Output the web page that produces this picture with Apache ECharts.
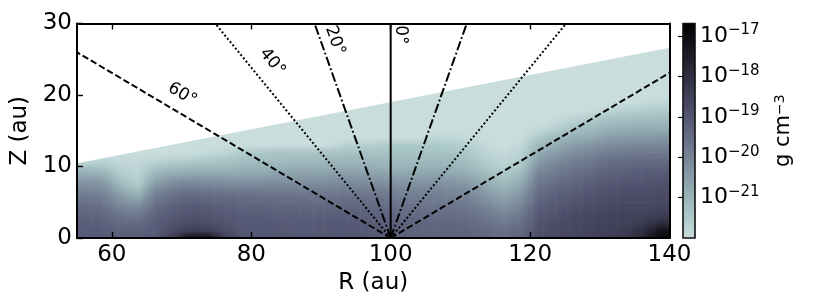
<!DOCTYPE html>
<html><head><meta charset="utf-8">
<script src="https://cdn.jsdelivr.net/npm/echarts@6/dist/echarts.min.js"></script>
<style>html,body{margin:0;padding:0;background:#fff}#c{width:822px;height:308px}</style>
</head><body><div id="c"></div>
<script>
// ---------- data ----------
const R_MIN = 55, R_MAX = 140, Z_MIN = 0, Z_MAX = 30;
const R_TICKS = [60, 80, 100, 120, 140];
const R_TOP_TICKS = [60, 80, 100, 120];
const CBAR_TICKS = [-21, -20, -19, -18, -17];
const CBAR_MIN = -22, CBAR_MAX = -16.69;   // log10 density (g cm^-3)

// density columns: centre radius (au); values log10(rho) at Z = 0,1,2,... au
const COL_R = [56.25,58.75,61.25,63.75,66.25,68.75,71.25,73.75,76.25,78.75,81.25,83.75,86.25,88.75,91.25,93.75,96.25,98.75,
               101.25,103.75,106.25,108.75,111.25,113.75,116.25,118.75,121.25,123.75,126.25,128.75,131.25,133.75,136.25,138.75];
const Z_STEP = 1;
const DENSITY = [
  [-19.1,-19.15,-19.2,-19.3,-19.45,-19.6,-19.8,-20.1,-20.4,-20.8,-21.3,-22],
  [-19.1,-19.15,-19.25,-19.35,-19.5,-19.7,-19.95,-20.2,-20.5,-20.9,-21.4,-21.8,-22],
  [-19.2,-19.3,-19.45,-19.65,-19.9,-20.2,-20.5,-20.9,-21.2,-21.5,-21.7,-21.9,-22],
  [-19.2,-19.3,-19.45,-19.7,-20.0,-20.4,-20.9,-21.3,-21.6,-21.7,-21.8,-21.9,-22],
  [-19.1,-19.15,-19.2,-19.3,-19.45,-19.65,-19.9,-20.2,-20.6,-21.0,-21.4,-21.8,-22],
  [-18.3,-18.75,-18.95,-19.05,-19.2,-19.35,-19.6,-19.9,-20.3,-20.8,-21.2,-21.7,-22],
  [-17.0,-18.4,-18.75,-18.9,-19.05,-19.2,-19.45,-19.8,-20.2,-20.7,-21.1,-21.6,-22],
  [-17.0,-18.4,-18.8,-18.95,-19.1,-19.25,-19.5,-19.85,-20.25,-20.7,-21.1,-21.5,-21.9,-22],
  [-18.4,-18.8,-18.95,-19.05,-19.15,-19.3,-19.55,-19.9,-20.3,-20.75,-21.1,-21.4,-21.8,-22],
  [-19.0,-19.05,-19.1,-19.15,-19.25,-19.4,-19.6,-19.9,-20.3,-20.7,-21.0,-21.25,-21.5,-22],
  [-19.0,-19.05,-19.1,-19.15,-19.25,-19.4,-19.6,-19.9,-20.3,-20.7,-21.0,-21.2,-21.4,-22],
  [-19.0,-19.05,-19.1,-19.2,-19.3,-19.45,-19.65,-19.9,-20.25,-20.6,-20.95,-21.2,-21.35,-22],
  [-19.05,-19.1,-19.15,-19.2,-19.3,-19.45,-19.65,-19.95,-20.3,-20.6,-20.9,-21.15,-21.35,-22],
  [-19.05,-19.1,-19.15,-19.25,-19.35,-19.5,-19.7,-19.95,-20.3,-20.6,-20.9,-21.15,-21.35,-22],
  [-19.0,-19.05,-19.1,-19.2,-19.3,-19.5,-19.7,-19.95,-20.25,-20.55,-20.85,-21.1,-21.3,-22],
  [-19.0,-19.05,-19.1,-19.2,-19.3,-19.45,-19.65,-19.9,-20.2,-20.5,-20.8,-21.05,-21.3,-21.6,-22],
  [-19.05,-19.1,-19.15,-19.25,-19.35,-19.5,-19.7,-19.95,-20.25,-20.55,-20.85,-21.1,-21.3,-21.6,-22],
  [-19.1,-19.15,-19.2,-19.3,-19.4,-19.55,-19.75,-20.0,-20.3,-20.6,-20.9,-21.1,-21.3,-21.5,-22],
  [-19.25,-19.3,-19.35,-19.45,-19.55,-19.7,-19.9,-20.1,-20.4,-20.7,-20.95,-21.15,-21.3,-21.45,-22],
  [-19.25,-19.3,-19.35,-19.45,-19.55,-19.7,-19.9,-20.1,-20.4,-20.7,-20.95,-21.15,-21.3,-21.45,-22],
  [-19.3,-19.35,-19.4,-19.5,-19.6,-19.75,-19.9,-20.1,-20.35,-20.65,-20.9,-21.1,-21.3,-21.45,-21.75,-22],
  [-19.3,-19.35,-19.4,-19.5,-19.6,-19.75,-19.95,-20.15,-20.4,-20.7,-20.95,-21.15,-21.3,-21.5,-21.8,-22],
  [-19.3,-19.35,-19.45,-19.55,-19.7,-19.85,-20.05,-20.3,-20.55,-20.85,-21.1,-21.3,-21.45,-21.65,-21.9,-22],
  [-19.4,-19.5,-19.6,-19.75,-19.95,-20.15,-20.4,-20.65,-20.9,-21.15,-21.4,-21.6,-21.75,-21.9,-22],
  [-19.5,-19.6,-19.75,-19.95,-20.2,-20.45,-20.7,-20.95,-21.2,-21.45,-21.65,-21.8,-21.9,-22],
  [-19.3,-19.4,-19.55,-19.7,-19.9,-20.1,-20.35,-20.6,-20.85,-21.1,-21.35,-21.55,-21.7,-21.85,-22],
  [-18.85,-18.9,-18.95,-19.05,-19.15,-19.3,-19.45,-19.6,-19.8,-20.0,-20.25,-20.5,-20.8,-21.1,-21.4,-21.8,-22],
  [-18.7,-18.75,-18.8,-18.9,-19.0,-19.1,-19.25,-19.4,-19.55,-19.75,-19.95,-20.2,-20.5,-20.8,-21.1,-21.45,-21.8,-22],
  [-18.6,-18.65,-18.7,-18.75,-18.85,-18.95,-19.1,-19.25,-19.4,-19.55,-19.75,-19.95,-20.2,-20.5,-20.85,-21.15,-21.5,-21.85,-22],
  [-18.5,-18.55,-18.6,-18.65,-18.75,-18.85,-18.95,-19.1,-19.25,-19.4,-19.6,-19.8,-20.05,-20.35,-20.7,-21.0,-21.3,-21.65,-22],
  [-18.4,-18.45,-18.5,-18.55,-18.65,-18.75,-18.85,-18.95,-19.1,-19.25,-19.4,-19.6,-19.85,-20.15,-20.5,-20.8,-21.1,-21.4,-21.8,-22],
  [-18.3,-18.35,-18.45,-18.5,-18.6,-18.7,-18.8,-18.9,-19.05,-19.2,-19.35,-19.55,-19.8,-20.1,-20.4,-20.75,-21.05,-21.35,-21.65,-22],
  [-17.7,-17.95,-18.3,-18.5,-18.6,-18.7,-18.8,-18.9,-19.0,-19.15,-19.3,-19.5,-19.75,-20.05,-20.4,-20.7,-21.0,-21.3,-21.6,-21.9,-22],
  [-16.9,-17.2,-17.85,-18.35,-18.55,-18.65,-18.75,-18.85,-18.95,-19.1,-19.3,-19.5,-19.75,-20.05,-20.35,-20.7,-21.0,-21.25,-21.5,-21.8,-22]
];

// upper edge of the model domain (straight ray from the origin)
const BOUNDARY_R = [55, 140];
const BOUNDARY_Z = [10.45, 26.6];

// rays from (100 au, 0) at angles from the vertical
const RAY_ORIGIN = [100, 0];
const RAY_ANGLES = [0, 20, 40, 60];
const RAY_LABELS = ['0°', '20°', '40°', '60°'];
const RAY_LABEL_R = [101.35, 92.0, 83.0, 70.1];
const RAY_LABEL_Z = [28.4, 27.6, 24.6, 20.1];
const RAY_LABEL_ROT = [-90, -70.4, -50.7, -30.6];

// ---------- style ----------
const FONT = 'DejaVu Sans';
const CMAP = ['#cadddd','#adcaca','#98b2b8','#8598a5','#727e92','#5f647f','#4c4c69','#39394f','#262635','#13131a','#000000'];
const DASHES = ['solid', [9.6, 2.6, 1.8, 2.6], [2, 2.2], [6.5, 3]];
const STRIPS = 8;

const CMAP_RGB = CMAP.map(h => [parseInt(h.slice(1,3),16), parseInt(h.slice(3,5),16), parseInt(h.slice(5,7),16)]);
function cmap(v) {
  let f = (v - CBAR_MIN) / (CBAR_MAX - CBAR_MIN);
  f = Math.max(0, Math.min(1, f));
  const n = CMAP_RGB.length - 1;
  const x = f * n;
  const i = Math.min(n - 1, Math.floor(x));
  const u = x - i;
  const a = CMAP_RGB[i], b = CMAP_RGB[i + 1];
  return 'rgb(' + [0,1,2].map(k => Math.round(a[k] + (b[k] - a[k]) * u)).join(',') + ')';
}
function val(c, j) { const col = DENSITY[c]; return j < col.length ? col[j] : col[col.length - 1]; }

// cells: between neighbouring column centres (and half cells at both plot edges)
const heatData = [];
const spans = [[R_MIN, COL_R[0], 0, 0]];
for (let c = 0; c < COL_R.length - 1; c++) spans.push([COL_R[c], COL_R[c + 1], c, c + 1]);
spans.push([COL_R[COL_R.length - 1], R_MAX, COL_R.length - 1, COL_R.length - 1]);
spans.forEach(([rA, rB, cA, cB]) => {
  const n = Math.max(DENSITY[cA].length, DENSITY[cB].length);
  for (let j = 0; j < n - 1; j++) {
    heatData.push([rA, rB, j * Z_STEP, (j + 1) * Z_STEP, val(cA, j), val(cB, j), val(cA, j + 1), val(cB, j + 1)]);
  }
});

const series = [];
series.push({
  type: 'custom', xAxisIndex: 0, yAxisIndex: 0, z: 1, silent: true, clip: true,
  data: heatData, encode: { x: [0, 1], y: [2, 3] },
  renderItem(params, api) {
    const p0 = api.coord([api.value(0), api.value(3)]);
    const p1 = api.coord([api.value(1), api.value(2)]);
    const vA0 = api.value(4), vB0 = api.value(5), vA1 = api.value(6), vB1 = api.value(7);
    const w = p1[0] - p0[0], h = p1[1] - p0[1];
    const n = (vA0 === vB0 && vA1 === vB1) ? 1 : STRIPS;
    const children = [];
    for (let s = 0; s < n; s++) {
      const um = (s + 0.5) / n;
      const bot = vA0 + (vB0 - vA0) * um, top = vA1 + (vB1 - vA1) * um;
      children.push({
        type: 'rect',
        shape: { x: p0[0] + w * s / n, y: p0[1], width: w / n + 0.6, height: h + 0.6 },
        style: { fill: new echarts.graphic.LinearGradient(0, 0, 0, 1, [
          { offset: 0, color: cmap(top) }, { offset: 1, color: cmap(bot) }]) }
      });
    }
    return { type: 'group', children };
  }
});
series.push({
  type: 'line', xAxisIndex: 0, yAxisIndex: 0, z: 3, silent: true, symbol: 'none',
  data: BOUNDARY_R.map((r, i) => [r, BOUNDARY_Z[i]]),
  lineStyle: { width: 0 }, areaStyle: { color: '#ffffff', opacity: 1, origin: 'end' }
});
RAY_ANGLES.forEach((a, k) => {
  const sides = a === 0 ? [1] : [-1, 1];
  sides.forEach(s => {
    const t = Math.tan(a * Math.PI / 180);
    series.push({
      type: 'line', xAxisIndex: 0, yAxisIndex: 0, z: 4, silent: true, symbol: 'none', clip: true,
      data: [RAY_ORIGIN, [RAY_ORIGIN[0] + s * (Z_MAX - RAY_ORIGIN[1]) * t, Z_MAX]],
      lineStyle: { color: '#000', width: 2, type: DASHES[k], cap: 'butt' }
    });
  });
});
series.push({
  type: 'scatter', xAxisIndex: 0, yAxisIndex: 0, z: 5, silent: true, symbolSize: 1,
  itemStyle: { color: 'rgba(0,0,0,0)', opacity: 1 },
  data: RAY_LABELS.map((t, k) => ({
    name: t, value: [RAY_LABEL_R[k], RAY_LABEL_Z[k]],
    label: { rotate: RAY_LABEL_ROT[k] }
  })),
  label: { show: true, position: 'inside', formatter: p => p.name, fontFamily: FONT, fontSize: 17,
           color: '#000', textBorderWidth: 0, opacity: 1 }
});
// colorbar
series.push({
  type: 'custom', xAxisIndex: 2, yAxisIndex: 2, z: 2, silent: true,
  data: [[0, 1, CBAR_MIN, CBAR_MAX]], encode: { x: [0, 1], y: [2, 3] },
  renderItem(params, api) {
    const p0 = api.coord([api.value(0), api.value(3)]);
    const p1 = api.coord([api.value(1), api.value(2)]);
    const stops = CMAP.slice().reverse().map((c, i) => ({ offset: i / (CMAP.length - 1), color: c }));
    return {
      type: 'rect',
      shape: { x: p0[0], y: p0[1], width: p1[0] - p0[0], height: p1[1] - p0[1] },
      style: { fill: new echarts.graphic.LinearGradient(0, 0, 0, 1, stops), stroke: '#111', lineWidth: 1.6 }
    };
  }
});

const frameLine = { show: true, onZero: false, lineStyle: { color: '#000', width: 2 } };
const tickStyle = { color: '#000', width: 1.4 };
const labelBase = { fontFamily: FONT, fontSize: 23, color: '#000' };

const option = {
  backgroundColor: '#fff',
  animation: false,
  grid: [
    { left: 77, right: 152.5, top: 23.5, bottom: 70, show: true, backgroundColor: '#cadddd', borderWidth: 0, outerBoundsMode: 'none' },
    { left: 683, top: 23.5, width: 12, height: 214.5, outerBoundsMode: 'none' }
  ],
  xAxis: [
    { type: 'value', gridIndex: 0, min: R_MIN, max: R_MAX, position: 'bottom', z: 10,
      axisLine: frameLine,
      axisTick: { show: true, inside: true, length: 6, lineStyle: tickStyle, customValues: R_TICKS },
      axisLabel: Object.assign({ customValues: R_TICKS, margin: 6 }, labelBase),
      splitLine: { show: false },
      name: 'R (au)', nameLocation: 'middle', nameGap: 31, nameTextStyle: labelBase },
    { type: 'value', gridIndex: 0, min: R_MIN, max: R_MAX, position: 'top', z: 10,
      axisLine: frameLine,
      axisTick: { show: true, inside: true, length: 6, lineStyle: tickStyle, customValues: R_TOP_TICKS },
      axisLabel: { show: false }, splitLine: { show: false } },
    { type: 'value', gridIndex: 1, min: 0, max: 1, show: false }
  ],
  yAxis: [
    { type: 'value', gridIndex: 0, min: Z_MIN, max: Z_MAX, interval: 10, position: 'left', z: 10,
      axisLine: frameLine,
      axisTick: { show: true, inside: true, length: 6, lineStyle: tickStyle },
      axisLabel: Object.assign({ margin: 5 }, labelBase),
      splitLine: { show: false },
      name: 'Z (au)', nameLocation: 'middle', nameGap: 42, nameRotate: 90, nameTextStyle: labelBase },
    { type: 'value', gridIndex: 0, min: Z_MIN, max: Z_MAX, position: 'right', z: 10,
      axisLine: frameLine, axisTick: { show: false }, axisLabel: { show: false }, splitLine: { show: false } },
    { type: 'value', gridIndex: 1, min: CBAR_MIN, max: CBAR_MAX, position: 'right', z: 10,
      axisLine: { show: false },
      axisTick: { show: true, inside: true, length: 5, lineStyle: { color: '#000', width: 1.2 }, customValues: CBAR_TICKS },
      axisLabel: { customValues: CBAR_TICKS, margin: 5, color: '#000', fontFamily: FONT,
        formatter: v => '{b|10}{s|−' + Math.round(-v) + '}',
        rich: { b: { fontFamily: FONT, fontSize: 22, lineHeight: 26, color: '#000' },
                s: { fontFamily: FONT, fontSize: 15, lineHeight: 15, verticalAlign: 'top', color: '#000' } } },
      splitLine: { show: false },
      name: 'g cm{s|−3}', nameLocation: 'middle', nameRotate: 90, nameGap: 78,
      nameTextStyle: { fontFamily: FONT, fontSize: 21, color: '#000',
        rich: { s: { fontFamily: FONT, fontSize: 14, verticalAlign: 'top', lineHeight: 14, color: '#000' } } } }
  ],
  series
};
const chart = echarts.init(document.getElementById('c'), null, { renderer: 'canvas' });
chart.setOption(option);
</script></body></html>
